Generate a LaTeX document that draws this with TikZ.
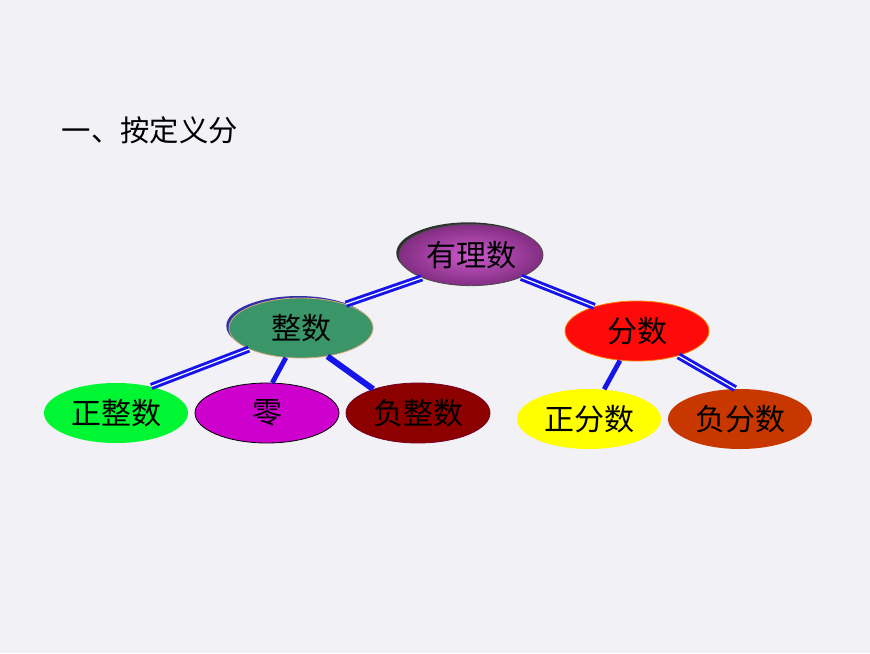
\documentclass[tikz,border=0pt]{standalone}
\usepackage{fontspec}
\setmainfont{Noto Sans CJK SC}
\usetikzlibrary{shapes.geometric,shadows}
\definecolor{bgpaper}{RGB}{242,241,246}
\definecolor{ratpurple}{RGB}{130,45,130}
\definecolor{ratlight}{RGB}{205,90,205}
\definecolor{intgreen}{RGB}{58,150,105}
\definecolor{posgreen}{RGB}{0,245,50}
\definecolor{zeromag}{RGB}{205,0,205}
\definecolor{negred}{RGB}{140,0,0}
\definecolor{fracred}{RGB}{255,10,10}
\definecolor{posyellow}{RGB}{255,255,0}
\definecolor{negorange}{RGB}{200,55,0}
\definecolor{linkblue}{RGB}{20,20,235}
\begin{document}
\begin{tikzpicture}[x=0.75pt, y=-0.75pt]
    % Define styles
    \tikzset{
        numset/.style={
            ellipse,
            draw=black!70,
            line width=0.6pt,
            inner sep=0pt,
            minimum width=108pt,
            minimum height=45pt,
            font=\fontsize{22.5}{26}\selectfont
        },
        shade/.style={
            drop shadow={shadow xshift=-2pt, shadow yshift=1.5pt, fill=#1, opacity=0.8}
        },
        twin/.style={
            draw=linkblue,
            line width=2.2pt,
            double=white,
            double distance=0.9pt
        },
        single/.style={
            draw=linkblue,
            line width=3.6pt
        }
    }

    % Background
    \fill[bgpaper] (0,0) rectangle (870,653);
    \useasboundingbox (0,0) rectangle (870,653);

    % Title
    \node[anchor=west, font=\fontsize{22}{26}\selectfont] (title) at (57,130) {一、按定义分};

    % Top level
    \node[numset, shade=black, shading=radial, inner color=ratlight, outer color=ratpurple,
        minimum height=46pt] (yl) at (471,255) {有理数};

    % Second level
    \node[numset, shade=blue!60!black, fill=intgreen, draw=brown!70] (zs) at (301,328) {整数};
    \node[numset, fill=fracred, draw=orange] (fs) at (637,331) {分数};

    % Third level
    \node[numset, fill=posgreen, draw=none] (zzs) at (116,413) {正整数};
    \node[numset, fill=zeromag, draw=black] (ling) at (267,413) {零};
    \node[numset, fill=negred, draw=purple!60!black] (fzs) at (418,413) {负整数};
    \node[numset, fill=posyellow, draw=none] (zfs) at (589,419) {正分数};
    \node[numset, fill=negorange, draw=none] (ffs) at (740,419) {负分数};

    % Connect
    \draw[twin] (yl.205) -- (zs.28);
    \draw[twin] (yl.336) -- (fs.150);
    \draw[twin] (zs.202) -- (zzs.37);
    \draw[single] (zs.243) -- (ling.80);
    \draw[single, line width=4.5pt] (zs.313) -- (fzs.152);
    \draw[single] (fs.240) -- (zfs.63);
    \draw[twin] (fs.329) -- (ffs.99);
\end{tikzpicture}
\end{document}
